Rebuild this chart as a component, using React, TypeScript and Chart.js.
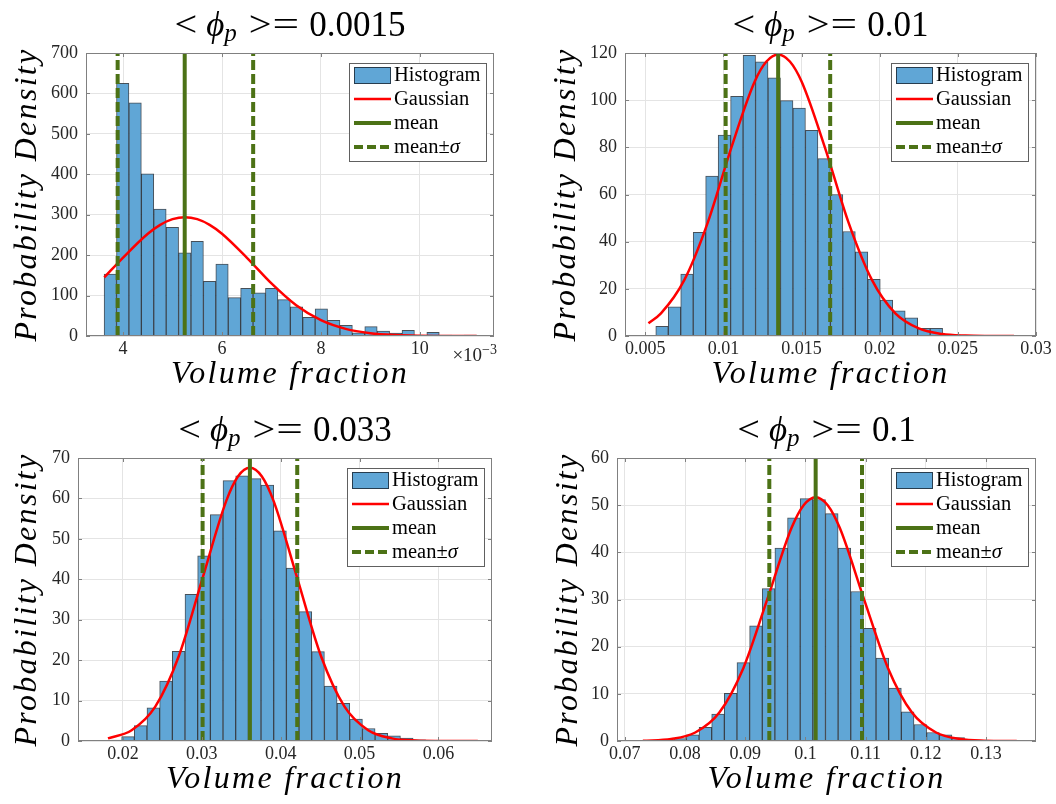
import React, { useEffect, useRef } from 'react';
import { Chart, registerables } from 'chart.js';

Chart.register(...registerables);

const SERIF = '"Liberation Serif", "DejaVu Serif", "Times New Roman", serif';

// ---------------- DATA ----------------
// Panel titles (<phi_p> values)
const titleValues = ['0.0015', '0.01', '0.033', '0.1'];

// Panel 1 (x in units of 1e-3)
const hist1Start = 3.616;
const hist1Width = 0.251;
const hist1Heights = [153, 625, 577, 401, 314, 269, 206, 234, 135, 178, 95, 118, 107, 118, 90, 72, 46, 67, 39, 26.5, 8, 23, 12, 7.5, 14, 1, 9, 2.5, 0.5, 2.5];
const gauss1X = [3.62, 4.0, 4.5, 4.75, 5.0, 5.25, 5.5, 5.75, 6.0, 6.5, 7.0, 7.5, 8.0, 8.5, 9.0, 9.5, 10.0, 10.5, 11.15];
const gauss1Y = [145, 194, 253, 275, 289, 294, 289, 275, 253, 194, 130, 76, 39, 17.6, 6.9, 2.4, 0.7, 0.2, 0.05];
const lines1 = [3.89, 5.246, 6.63]; // mean-sigma, mean, mean+sigma
const x1Ticks = [4, 6, 8, 10];
const x1Labels = ['4', '6', '8', '10'];
const y1Ticks = [0, 100, 200, 300, 400, 500, 600, 700];

// Panel 2
const hist2Start = 0.00567;
const hist2Width = 0.000798;
const hist2Heights = [4.1, 12.4, 26.3, 44.0, 67.8, 85.2, 101.6, 119, 116.3, 109.5, 99.8, 96.6, 87.2, 75.2, 60, 44.3, 35.7, 24, 15.2, 10.7, 7.7, 3.3, 3.3];
const gauss2X = [0.0052, 0.006, 0.0075, 0.009, 0.0105, 0.012, 0.01275, 0.0135, 0.01425, 0.015, 0.0165, 0.018, 0.0195, 0.021, 0.0225, 0.024, 0.0255, 0.027, 0.0286];
const gauss2Y = [5.4, 9.6, 23.8, 48.2, 79.8, 107.9, 116.4, 119.4, 116.4, 107.9, 79.8, 48.2, 23.8, 9.6, 3.2, 0.85, 0.19, 0.03, 0];
const lines2 = [0.01014, 0.0135, 0.01683];
const x2Ticks = [0.005, 0.01, 0.015, 0.02, 0.025, 0.03];
const x2Labels = ['0.005', '0.01', '0.015', '0.02', '0.025', '0.03'];
const y2Ticks = [0, 20, 40, 60, 80, 100, 120];

// Panel 3
const hist3Start = 0.01662;
const hist3Width = 0.001607;
const hist3Heights = [0.15, 0.25, 1.1, 3.8, 8.2, 14.8, 22.2, 36.3, 45.8, 56, 64.4, 65.6, 64.9, 63.3, 52.0, 42.8, 32.0, 22.1, 13.6, 9.3, 5.4, 3.1, 1.9, 1.3, 0.7, 0.3];
const gauss3X = [0.0181, 0.0211, 0.0241, 0.0271, 0.0301, 0.0331, 0.0346, 0.0361, 0.0376, 0.0391, 0.0421, 0.0451, 0.0481, 0.0511, 0.0541, 0.0571, 0.0601, 0.065];
const gauss3Y = [0.65, 2.67, 8.5, 21.1, 40.3, 59.4, 65.5, 67.6, 65.5, 59.4, 40.3, 21.1, 8.5, 2.67, 0.65, 0.12, 0.02, 0];
const lines3 = [0.0301, 0.0361, 0.0421];
const x3Ticks = [0.02, 0.03, 0.04, 0.05, 0.06];
const x3Labels = ['0.02', '0.03', '0.04', '0.05', '0.06'];
const y3Ticks = [0, 10, 20, 30, 40, 50, 60, 70];

// Panel 4
const hist4Start = 0.07603;
const hist4Width = 0.0021;
const hist4Heights = [0.15, 0.5, 1.3, 2.9, 5.7, 10.1, 16.6, 24.4, 32.3, 40.9, 47.3, 51.4, 51.2, 48.2, 40.9, 31.7, 23.9, 17.6, 11.2, 6.2, 3.5, 1.8, 1.3, 0.7];
const gauss4X = [0.073, 0.0777, 0.0817, 0.0857, 0.0897, 0.0937, 0.0977, 0.0997, 0.1017, 0.1037, 0.1057, 0.1097, 0.1137, 0.1177, 0.1217, 0.1257, 0.1297, 0.1351];
const gauss4Y = [0.05, 0.41, 1.8, 6.03, 15.5, 30.2, 45.2, 50.0, 51.7, 50.0, 45.2, 30.2, 15.5, 6.03, 1.8, 0.41, 0.07, 0];
const lines4 = [0.094, 0.1017, 0.1094];
const x4Ticks = [0.07, 0.08, 0.09, 0.1, 0.11, 0.12, 0.13];
const x4Labels = ['0.07', '0.08', '0.09', '0.1', '0.11', '0.12', '0.13'];
const y4Ticks = [0, 10, 20, 30, 40, 50, 60];

const legendLabels = ['Histogram', 'Gaussian', 'mean', 'mean±'];

// ---------------- STYLE ----------------
const BAR_FILL = 'rgb(96,166,214)';
const BAR_EDGE = 'rgba(25,35,45,0.8)';
const RED = 'rgb(255,0,0)';
const GREEN = 'rgb(76,114,22)';
const GRID = '#e4e4e4';
const AXIS = '#808080';
const TICK_TEXT = '#262626';
const TL = 4;

type PanelCfg = {
  left: number; top: number; w: number; h: number;
  yw: number; padTop: number; padRight: number; xh: number;
  yLabelOff: number;
  xMin: number; xMax: number; yMax: number;
  start: number; width: number; heights: number[];
  gx: number[]; gy: number[]; lines: number[];
  xTicks: number[]; xLabels: string[]; yTicks: number[];
  title: string; exponent: boolean;
};

const panels: PanelCfg[] = [
  { left: 0, top: 0, w: 528, h: 402, yw: 86, padTop: 53, padRight: 34, xh: 66, yLabelOff: 58,
    xMin: 3.25, xMax: 11.5, yMax: 700, start: hist1Start, width: hist1Width, heights: hist1Heights,
    gx: gauss1X, gy: gauss1Y, lines: lines1, xTicks: x1Ticks, xLabels: x1Labels, yTicks: y1Ticks,
    title: titleValues[0], exponent: true },
  { left: 528, top: 0, w: 528, h: 402, yw: 97, padTop: 53, padRight: 20, xh: 66, yLabelOff: 58,
    xMin: 0.0037, xMax: 0.03, yMax: 120, start: hist2Start, width: hist2Width, heights: hist2Heights,
    gx: gauss2X, gy: gauss2Y, lines: lines2, xTicks: x2Ticks, xLabels: x2Labels, yTicks: y2Ticks,
    title: titleValues[1], exponent: false },
  { left: 0, top: 402, w: 528, h: 402, yw: 78, padTop: 56, padRight: 36, xh: 63, yLabelOff: 50,
    xMin: 0.0143, xMax: 0.0668, yMax: 70, start: hist3Start, width: hist3Width, heights: hist3Heights,
    gx: gauss3X, gy: gauss3Y, lines: lines3, xTicks: x3Ticks, xLabels: x3Labels, yTicks: y3Ticks,
    title: titleValues[2], exponent: false },
  { left: 528, top: 402, w: 528, h: 402, yw: 89, padTop: 56, padRight: 20, xh: 63, yLabelOff: 48,
    xMin: 0.0687, xMax: 0.1383, yMax: 60, start: hist4Start, width: hist4Width, heights: hist4Heights,
    gx: gauss4X, gy: gauss4Y, lines: lines4, xTicks: x4Ticks, xLabels: x4Labels, yTicks: y4Ticks,
    title: titleValues[3], exponent: false },
];

function stretchText(ctx: CanvasRenderingContext2D, t: string, x: number, y: number, sx: number) {
  ctx.save();
  ctx.translate(x, y);
  ctx.scale(sx, 1);
  ctx.fillText(t, 0, 0);
  ctx.restore();
}

function drawTitle(ctx: CanvasRenderingContext2D, cx: number, baseline: number, value: string) {
  const big = `35px ${SERIF}`;
  const bigI = `italic 35px ${SERIF}`;
  const sub = `italic 25px ${SERIF}`;
  ctx.font = big;
  const wLt = ctx.measureText('<').width * 1.15;
  const wGt = ctx.measureText('>').width * 1.15;
  const wEq = ctx.measureText('=').width * 1.35;
  const wNum = ctx.measureText(value).width;
  ctx.font = bigI;
  const wPhi = ctx.measureText('\u03D5').width;
  ctx.font = sub;
  const wP = ctx.measureText('p').width;
  const xPhi = wLt + 9;
  const xP = xPhi + wPhi;
  const xGt = xP + wP + 12;
  const xEq = xGt + wGt + 1;
  const xNum = xEq + wEq + 10;
  const total = xNum + wNum;
  const s = cx - total / 2;
  ctx.fillStyle = '#000';
  ctx.textAlign = 'left';
  ctx.textBaseline = 'alphabetic';
  ctx.font = big;
  stretchText(ctx, '<', s, baseline, 1.15);
  ctx.font = bigI;
  ctx.fillText('\u03D5', s + xPhi, baseline);
  ctx.font = sub;
  ctx.fillText('p', s + xP, baseline + 5);
  ctx.font = big;
  stretchText(ctx, '>', s + xGt, baseline, 1.15);
  stretchText(ctx, '=', s + xEq, baseline, 1.35);
  ctx.fillText(value, s + xNum, baseline);
}

function hline(ctx: CanvasRenderingContext2D, x0: number, x1: number, y: number, color: string, w: number, dash: number[]) {
  ctx.save();
  ctx.strokeStyle = color;
  ctx.lineWidth = w;
  ctx.setLineDash(dash);
  ctx.lineCap = 'butt';
  ctx.beginPath();
  ctx.moveTo(x0, y);
  ctx.lineTo(x1, y);
  ctx.stroke();
  ctx.restore();
}

function makeDeco(p: PanelCfg) {
  return {
    id: 'deco',
    afterDraw(chart: any) {
      const ctx = chart.ctx as CanvasRenderingContext2D;
      const a = chart.chartArea;
      const xs = chart.scales.x;
      const ys = chart.scales.y;
      ctx.save();
      // axes box
      ctx.strokeStyle = AXIS;
      ctx.lineWidth = 1;
      ctx.strokeRect(Math.round(a.left) + 0.5, Math.round(a.top) + 0.5, Math.round(a.right - a.left) - 1, Math.round(a.bottom - a.top) - 1);
      // inward ticks
      ctx.beginPath();
      for (const v of p.xTicks) {
        const px = Math.round(xs.getPixelForValue(v)) + 0.5;
        ctx.moveTo(px, a.bottom); ctx.lineTo(px, a.bottom - TL);
        ctx.moveTo(px, a.top); ctx.lineTo(px, a.top + TL);
      }
      for (const v of p.yTicks) {
        const py = Math.round(ys.getPixelForValue(v)) + 0.5;
        ctx.moveTo(a.left, py); ctx.lineTo(a.left + TL, py);
        ctx.moveTo(a.right, py); ctx.lineTo(a.right - TL, py);
      }
      ctx.stroke();

      // legend
      const lw = 137, lh = 98;
      const lx = Math.round(a.right - 8 - lw);
      const ly = Math.round(a.top + 10);
      ctx.fillStyle = '#fff';
      ctx.fillRect(lx, ly, lw, lh);
      ctx.strokeStyle = '#606060';
      ctx.lineWidth = 1;
      ctx.strokeRect(lx + 0.5, ly + 0.5, lw, lh);
      const rows = [12, 36, 60, 84];
      ctx.fillStyle = BAR_FILL;
      ctx.fillRect(lx + 5, ly + rows[0] - 8, 37, 17);
      ctx.strokeStyle = BAR_EDGE;
      ctx.strokeRect(lx + 5.5, ly + rows[0] - 7.5, 36, 16);
      hline(ctx, lx + 5, lx + 42, ly + rows[1], RED, 2.5, []);
      hline(ctx, lx + 5, lx + 42, ly + rows[2], GREEN, 4, []);
      hline(ctx, lx + 5, lx + 42, ly + rows[3], GREEN, 4, [9, 4]);
      ctx.fillStyle = '#000';
      ctx.textAlign = 'left';
      ctx.textBaseline = 'middle';
      ctx.font = `20.5px ${SERIF}`;
      for (let i = 0; i < 4; i++) ctx.fillText(legendLabels[i], lx + 45, ly + rows[i] + 1);
      const wm = ctx.measureText(legendLabels[3]).width;
      ctx.font = `italic 20.5px ${SERIF}`;
      ctx.fillText('\u03C3', lx + 45 + wm, ly + rows[3] + 1);

      // title
      const cx = (a.left + a.right) / 2;
      drawTitle(ctx, cx, a.top - 17, p.title);

      // axis labels
      const labFont = `italic 32px ${SERIF}`;
      ctx.font = labFont;
      (ctx as any).letterSpacing = '2.3px';
      ctx.fillStyle = '#000';
      ctx.textAlign = 'center';
      ctx.textBaseline = 'alphabetic';
      ctx.fillText('Volume fraction', cx, a.bottom + 47);
      ctx.save();
      ctx.translate(a.left - p.yLabelOff, (a.top + a.bottom) / 2);
      ctx.rotate(-Math.PI / 2);
      ctx.textBaseline = 'middle';
      ctx.fillText('Probability Density', 0, 0);
      ctx.restore();
      (ctx as any).letterSpacing = '0px';

      if (p.exponent) {
        ctx.fillStyle = TICK_TEXT;
        ctx.textAlign = 'left';
        ctx.textBaseline = 'alphabetic';
        ctx.font = `19px ${SERIF}`;
        const t1 = '\u00D710';
        const w1 = ctx.measureText(t1).width;
        ctx.font = `14px ${SERIF}`;
        const t2 = '\u22123';
        const w2 = ctx.measureText(t2).width;
        const sx = a.right + 3 - w1 - w2;
        ctx.font = `19px ${SERIF}`;
        ctx.fillText(t1, sx, a.bottom + 25);
        ctx.font = `14px ${SERIF}`;
        ctx.fillText(t2, sx + w1, a.bottom + 17.5);
      }
      ctx.restore();
    },
  };
}

function PanelChart({ p }: { p: PanelCfg }) {
  const ref = useRef<HTMLCanvasElement | null>(null);
  useEffect(() => {
    const canvas = ref.current;
    if (!canvas) return;
    const barData = p.heights.map((h, i) => ({ x: p.start + (i + 0.5) * p.width, y: h }));
    const gaussData = p.gx.map((x, i) => ({ x, y: p.gy[i] }));
    const vline = (x: number) => [{ x, y: 0 }, { x, y: p.yMax }];
    const tickFont = { family: SERIF, size: 18 };
    const chart = new Chart(canvas, {
      type: 'line',
      data: {
        datasets: [
          { type: 'bar', data: barData, backgroundColor: BAR_FILL, borderColor: BAR_EDGE, borderWidth: 1,
            barPercentage: 1, categoryPercentage: 1, order: 4 } as any,
          { type: 'line', data: gaussData, borderColor: RED, borderWidth: 2.5, pointRadius: 0,
            cubicInterpolationMode: 'monotone', fill: false, order: 3 } as any,
          { type: 'line', data: vline(p.lines[1]), borderColor: GREEN, borderWidth: 4, pointRadius: 0, order: 2 } as any,
          { type: 'line', data: vline(p.lines[0]), borderColor: GREEN, borderWidth: 4, pointRadius: 0,
            borderDash: [10, 4], order: 1 } as any,
          { type: 'line', data: vline(p.lines[2]), borderColor: GREEN, borderWidth: 4, pointRadius: 0,
            borderDash: [10, 4], order: 1 } as any,
        ],
      },
      options: {
        responsive: false,
        animation: false,
        devicePixelRatio: 1,
        layout: { padding: { left: 0, top: p.padTop, right: p.padRight, bottom: 0 } },
        plugins: { legend: { display: false }, tooltip: { enabled: false }, title: { display: false } },
        scales: {
          x: {
            type: 'linear', min: p.xMin, max: p.xMax, offset: false,
            afterBuildTicks: (s: any) => { s.ticks = p.xTicks.map((v) => ({ value: v })); },
            afterFit: (s: any) => { s.height = p.xh; },
            ticks: { callback: (_v: any, i: number) => p.xLabels[i], font: tickFont, color: TICK_TEXT,
              padding: 2, maxRotation: 0, autoSkip: false },
            grid: { color: GRID, drawTicks: false, lineWidth: 1, offset: false },
            border: { display: false },
          },
          y: {
            type: 'linear', min: 0, max: p.yMax,
            afterBuildTicks: (s: any) => { s.ticks = p.yTicks.map((v) => ({ value: v })); },
            afterFit: (s: any) => { s.width = p.yw; },
            ticks: { callback: (v: any) => String(v), font: tickFont, color: TICK_TEXT, padding: 8, autoSkip: false },
            grid: { color: GRID, drawTicks: false, lineWidth: 1 },
            border: { display: false },
          },
        },
      } as any,
      plugins: [makeDeco(p)],
    } as any);
    return () => chart.destroy();
  }, [p]);
  return (
    <canvas
      ref={ref}
      width={p.w}
      height={p.h}
      style={{ position: 'absolute', left: p.left, top: p.top, width: p.w, height: p.h }}
    />
  );
}

export default function App() {
  return (
    <div style={{ position: 'fixed', left: 0, top: 0, width: 1056, height: 804, background: '#fff', overflow: 'hidden' }}>
      {panels.map((p, i) => (
        <PanelChart key={i} p={p} />
      ))}
    </div>
  );
}
